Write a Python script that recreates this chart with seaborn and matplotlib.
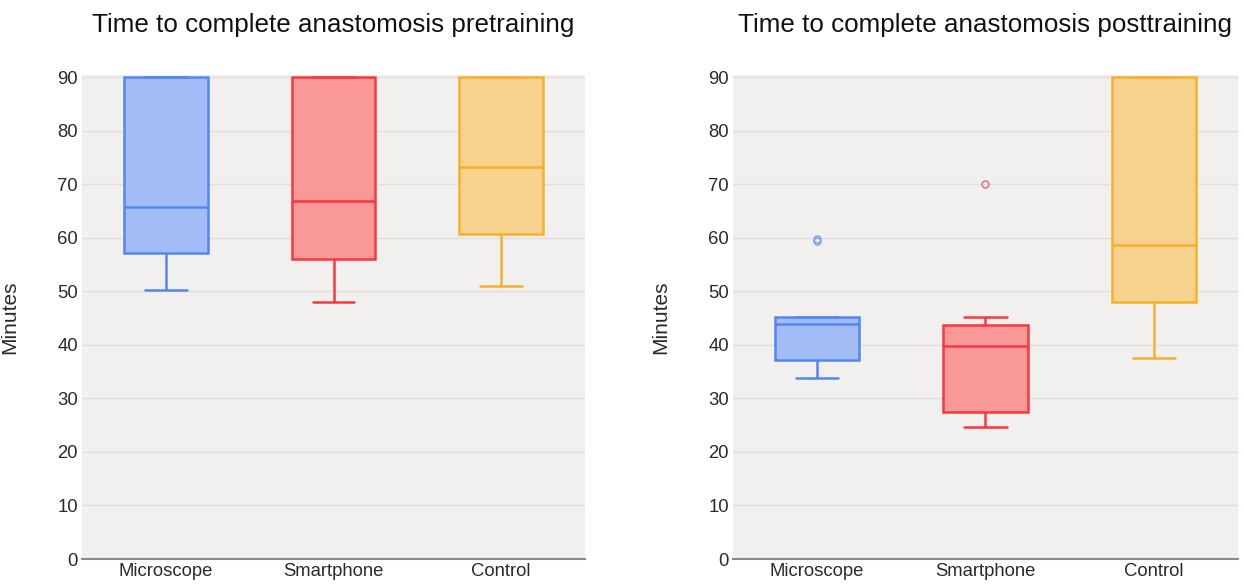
import numpy as np
import pandas as pd
import seaborn as sns
import matplotlib.pyplot as plt

groups = ['Microscope', 'Smartphone', 'Control']

# minutes per participant
pre_microscope = [50.3, 53, 57.1, 61, 65.7, 78, 90, 90, 90]
pre_smartphone = [48.0, 52, 56.0, 60, 66.8, 80, 90, 90, 90]
pre_control = [51.0, 56, 60.7, 67, 73.2, 84, 90, 90, 90]

post_microscope = [33.8, 35.5, 37.2, 41, 43.8, 44.5, 45.2, 59.4, 59.8]
post_smartphone = [24.7, 26, 27.5, 34, 39.7, 42, 43.7, 45.2, 70.1]
post_control = [37.6, 44, 48.0, 53, 58.7, 75, 90, 90, 90]

titles = ['Time to complete anastomosis pretraining',
          'Time to complete anastomosis posttraining']

edge_colors = {'Microscope': '#5286f5', 'Smartphone': '#f7383d', 'Control': '#f7b02a'}
fill_colors = {'Microscope': '#a4bcf5', 'Smartphone': '#f89899', 'Control': '#f7d28f'}
flier_colors = {'Microscope': '#7aa2f2', 'Smartphone': '#ee7474', 'Control': '#f7c060'}


def long_table(microscope, smartphone, control):
    rows = []
    for g, vals in zip(groups, [microscope, smartphone, control]):
        for v in vals:
            rows.append({'group': g, 'minutes': v})
    return pd.DataFrame(rows)


pre = long_table(pre_microscope, pre_smartphone, pre_control)
post = long_table(post_microscope, post_smartphone, post_control)

sns.set_style('white')
plt.rcParams['font.family'] = ['Liberation Sans', 'DejaVu Sans']
text_color = '#2a2a2a'

fig = plt.figure(figsize=(12.44, 5.84), dpi=100)
ax1 = fig.add_axes([0.0659, 0.0428, 0.4044, 0.8288])
ax2 = fig.add_axes([0.5892, 0.0428, 0.4060, 0.8288])

for ax, df, title in zip([ax1, ax2], [pre, post], titles):
    ax.set_facecolor('#f2efef')
    for g in groups:
        sub = df[df['group'] == g]
        sns.boxplot(data=sub, x='group', y='minutes', order=groups,
                    color=fill_colors[g], linecolor=edge_colors[g],
                    saturation=1, width=0.5, linewidth=1.8, whis=1.5,
                    flierprops={'marker': 'o', 'markerfacecolor': 'none',
                                'markeredgecolor': flier_colors[g],
                                'markersize': 5, 'markeredgewidth': 1.1},
                    ax=ax, zorder=3)
    ax.set_ylim(0, 90.4)
    ax.set_xlim(-0.5, 2.5)
    ax.set_yticks(np.arange(0, 91, 10))
    ax.yaxis.grid(True, color='#e3dede', linewidth=1, zorder=0)
    ax.set_axisbelow(True)
    for s in ['top', 'right', 'left']:
        ax.spines[s].set_visible(False)
    ax.spines['bottom'].set_color('#8a8a8a')
    ax.spines['bottom'].set_linewidth(1.5)
    ax.tick_params(axis='both', length=0, labelsize=13.3, labelcolor=text_color)
    ax.tick_params(axis='y', pad=3)
    ax.tick_params(axis='x', pad=3)
    ax.set_xlabel('')
    ax.set_ylabel('Minutes', fontsize=15, color=text_color)
    ax.yaxis.set_label_coords(-0.125, 0.5)
    ax.set_title(title, fontsize=18.7, color='#111111', pad=31)

fig.savefig('out.png', dpi=100, facecolor='white')
